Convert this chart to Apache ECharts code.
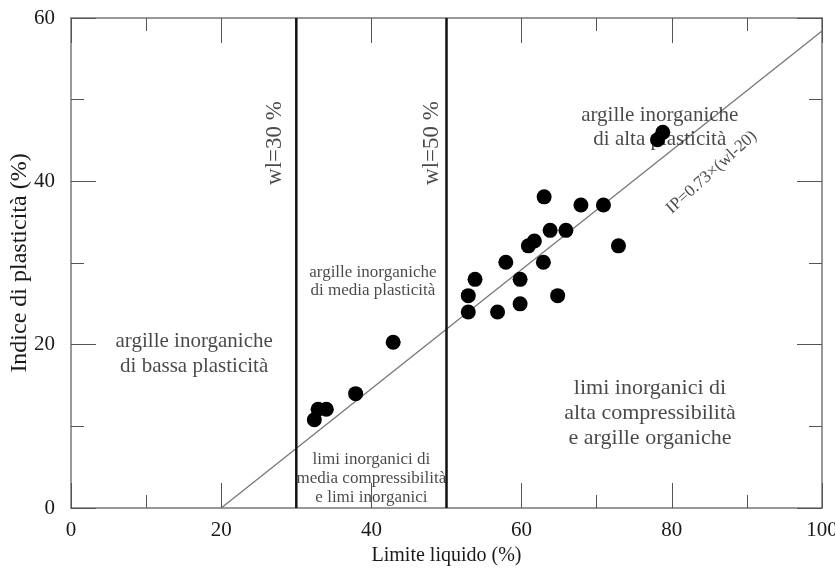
<!DOCTYPE html>
<html>
<head>
<meta charset="utf-8">
<script src="https://cdn.jsdelivr.net/npm/echarts@6/dist/echarts.min.js"></script>
<style>
html,body{margin:0;padding:0;background:#fff;}
#chart{width:835px;height:568px;}
</style>
</head>
<body>
<div id="chart"></div>
<script>
// Data points: liquid limit (x) and plasticity index (y)
const limiteLiquido = [32.4, 32.9, 34.0, 37.9, 42.9, 52.9, 52.9, 53.8, 56.8, 57.9, 59.8, 59.8, 60.9, 61.7, 62.9, 63.0, 63.8, 64.8, 65.9, 67.9, 70.9, 72.9, 78.1, 78.8];
const indicePlasticita = [10.8, 12.1, 12.1, 14.0, 20.3, 24.0, 26.0, 28.0, 24.0, 30.1, 25.0, 28.0, 32.1, 32.7, 30.1, 38.1, 34.0, 26.0, 34.0, 37.1, 37.1, 32.1, 45.1, 46.0];
// A-line IP = 0.73*(wl-20) endpoints
const aLineX = [20, 100];
const aLineY = [0, 58.4];
// Boundary lines
const wl30 = [30, 30];
const wl50 = [50, 50];
const boundY = [0, 60];
const xTicks = [0, 20, 40, 60, 80, 100];
const yTicks = [0, 20, 40, 60];

const pts = limiteLiquido.map((x, i) => [x, indicePlasticita[i]]);
const FONT = '"Liberation Serif", "DejaVu Serif", serif';
const TXT = '#1a1a1a';

function ann(x, y, text, size, lh, rotate) {
  return {
    value: [x, y],
    label: {
      show: true, position: 'inside', formatter: text,
      fontFamily: FONT, fontSize: size, lineHeight: lh, color: TXT,
      align: 'center', verticalAlign: 'middle', rotate: rotate || 0
    }
  };
}

function axisStyle(extra) {
  return Object.assign({
    axisLine: { show: true, onZero: false, lineStyle: { color: '#777', width: 1.5 } },
    axisTick: { show: true, inside: true, length: 25, lineStyle: { color: '#555', width: 1 } },
    minorTick: { show: true, splitNumber: 2, length: 13, lineStyle: { color: '#555', width: 1 } },
    splitLine: { show: false }
  }, extra);
}

const chart = echarts.init(document.getElementById('chart'));
chart.setOption({
  animation: false,
  backgroundColor: '#fff',
  grid: { left: 71, right: 13, top: 18, bottom: 60, show: false, containLabel: false, outerBoundsMode: 'none' },
  xAxis: [
    axisStyle({
      type: 'value', min: 0, max: 100, interval: 20,
      name: 'Limite liquido (%)', nameLocation: 'middle', nameGap: 38, nameMoveOverlap: false,
      nameTextStyle: { fontFamily: FONT, fontSize: 20, color: TXT },
      axisLabel: { fontFamily: FONT, fontSize: 21, color: TXT, margin: 12,
        formatter: v => xTicks.includes(v) ? String(v) : '' }
    }),
    axisStyle({
      type: 'value', min: 0, max: 100, interval: 20, position: 'top',
      axisLabel: { show: false }
    })
  ],
  yAxis: [
    axisStyle({
      type: 'value', min: 0, max: 60, interval: 20,
      name: 'Indice di plasticità (%)', nameLocation: 'middle', nameGap: 39, nameMoveOverlap: false,
      nameTextStyle: { fontFamily: FONT, fontSize: 24, color: TXT },
      axisLabel: { fontFamily: FONT, fontSize: 21, color: TXT, margin: 16,
        formatter: v => yTicks.includes(v) ? String(v) : '' }
    }),
    axisStyle({
      type: 'value', min: 0, max: 60, interval: 20, position: 'right',
      axisLabel: { show: false }
    })
  ],
  series: [
    {
      type: 'line', name: 'A-line', data: aLineX.map((x, i) => [x, aLineY[i]]),
      symbol: 'none', lineStyle: { color: '#777', width: 1.3 }, z: 2, silent: true
    },
    {
      type: 'line', name: 'wl30', data: wl30.map((x, i) => [x, boundY[i]]),
      symbol: 'none', lineStyle: { color: '#111', width: 2.5 }, z: 2, silent: true
    },
    {
      type: 'line', name: 'wl50', data: wl50.map((x, i) => [x, boundY[i]]),
      symbol: 'none', lineStyle: { color: '#111', width: 2.5 }, z: 2, silent: true
    },
    {
      type: 'scatter', name: 'labels', symbolSize: 0, z: 3, silent: true,
      data: [
        ann(27.2, 44.7, 'wl=30 %', 23, 24, 90),
        ann(48.1, 44.7, 'wl=50 %', 23, 24, 90),
        ann(78.4, 46.6, 'argille inorganiche\ndi alta plasticità', 21, 24),
        ann(85.3, 41.1, 'IP=0.73×(wl-20)', 17, 18, 42),
        ann(40.2, 27.7, 'argille inorganiche\ndi media plasticità', 17, 18),
        ann(16.4, 18.9, 'argille inorganiche\ndi bassa plasticità', 21, 25),
        ann(77.1, 11.6, 'limi inorganici di\nalta compressibilità\ne argille organiche', 22, 25),
        ann(40.0, 3.55, 'limi inorganici di\nmedia compressibilità\ne limi inorganici', 17, 19)
      ]
    },
    {
      type: 'scatter', name: 'campioni', data: pts,
      symbol: 'circle', symbolSize: 15, itemStyle: { color: '#000', opacity: 1 }, z: 5
    }
  ]
});
</script>
</body>
</html>
